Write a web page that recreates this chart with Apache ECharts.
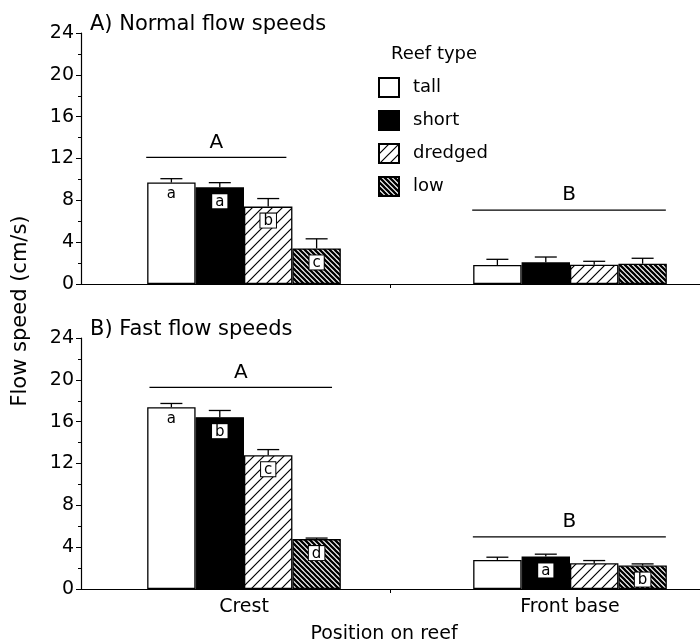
<!DOCTYPE html>
<html>
<head>
<meta charset="utf-8">
<script src="https://cdn.jsdelivr.net/npm/echarts@6/dist/echarts.min.js"></script>
<style>
  html, body { margin: 0; padding: 0; background: #fff; }
  #chart { width: 700px; height: 644px; }
</style>
</head>
<body>
<div id="chart"></div>
<script>
// Positions on the reef and reef types
const categories = ['Crest', 'Front base'];
const reefTypes = ['tall', 'short', 'dredged', 'low'];

// A) Normal flow speeds: mean flow speed (cm/s), [Crest, Front base]
const normalTall = [9.7, 1.82];
const normalShort = [9.25, 2.07];
const normalDredged = [7.4, 1.85];
const normalLow = [3.4, 1.94];
// standard errors
const normalTallSE = [0.37, 0.54];
const normalShortSE = [0.44, 0.51];
const normalDredgedSE = [0.77, 0.32];
const normalLowSE = [0.92, 0.52];
// post-hoc letters inside the bars
const normalTallLetters = ['a', ''];
const normalShortLetters = ['a', ''];
const normalDredgedLetters = ['b', ''];
const normalLowLetters = ['c', ''];
// letters for the position groups
const normalGroupLetters = ['A', 'B'];

// B) Fast flow speeds
const fastTall = [17.39, 2.78];
const fastShort = [16.43, 3.11];
const fastDredged = [12.79, 2.46];
const fastLow = [4.77, 2.24];
const fastTallSE = [0.35, 0.26];
const fastShortSE = [0.64, 0.22];
const fastDredgedSE = [0.54, 0.26];
const fastLowSE = [0.1, 0.16];
const fastTallLetters = ['a', ''];
const fastShortLetters = ['b', 'a'];
const fastDredgedLetters = ['c', ''];
const fastLowLetters = ['d', 'b'];
const fastGroupLetters = ['A', 'B'];

const yMin = 0, yMax = 24, yStep = 4;

const FONT = 'DejaVu Sans';
const BAR_FRACTION = 0.1485; // bar width as a share of one category band

// hatch fills
function hatch(size, lw, dir) {
  const c = document.createElement('canvas');
  c.width = c.height = size;
  const g = c.getContext('2d');
  g.fillStyle = '#fff';
  g.fillRect(0, 0, size, size);
  g.strokeStyle = '#000';
  g.lineWidth = lw;
  g.beginPath();
  if (dir === '/') {
    g.moveTo(-2, size + 2); g.lineTo(size + 2, -2);
    g.moveTo(-2, 2); g.lineTo(2, -2);
    g.moveTo(size - 2, size + 2); g.lineTo(size + 2, size - 2);
  } else {
    g.moveTo(-2, -2); g.lineTo(size + 2, size + 2);
    g.moveTo(-2, size - 2); g.lineTo(2, size + 2);
    g.moveTo(size - 2, -2); g.lineTo(size + 2, 2);
  }
  g.stroke();
  return { image: c, repeat: 'repeat' };
}

const fills = ['#ffffff', '#000000', hatch(10, 1.2, '/'), hatch(5, 2.3, '\\')];

const panels = [
  {
    means: [normalTall, normalShort, normalDredged, normalLow],
    se: [normalTallSE, normalShortSE, normalDredgedSE, normalLowSE],
    letters: [normalTallLetters, normalShortLetters, normalDredgedLetters, normalLowLetters],
    groups: normalGroupLetters,
    // group bar extents (category units from the band centre) and heights
    groupSpan: [[-0.30, 0.13, 12.1], [-0.30, 0.294, 7.07]]
  },
  {
    means: [fastTall, fastShort, fastDredged, fastLow],
    se: [fastTallSE, fastShortSE, fastDredgedSE, fastLowSE],
    letters: [fastTallLetters, fastShortLetters, fastDredgedLetters, fastLowLetters],
    groups: fastGroupLetters,
    groupSpan: [[-0.29, 0.27, 19.27], [-0.298, 0.294, 4.99]]
  }
];

const grids = [
  { left: 81, top: 33, width: 652, height: 251, outerBoundsMode: 'none', containLabel: false },
  { left: 81, top: 338, width: 652, height: 251, outerBoundsMode: 'none', containLabel: false }
];

const xAxes = [];
const yAxes = [];
grids.forEach((g, i) => {
  xAxes.push({
    type: 'category', gridIndex: i, data: categories,
    position: 'bottom',
    boundaryGap: true,
    axisLine: { onZero: false, lineStyle: { color: '#000', width: 1.2 } },
    axisTick: { show: false },
    axisLabel: { show: i === 1, color: '#000', fontFamily: FONT, fontSize: 19, margin: 9 },
    name: i === 1 ? 'Position on reef' : '',
    nameLocation: 'middle', nameGap: 36,
    nameTextStyle: { color: '#000', fontFamily: FONT, fontSize: 19, padding: [0, 0, 0, -46] }
  });
  yAxes.push({
    type: 'value', gridIndex: i, min: yMin, max: yMax, interval: yStep,
    axisLine: { show: true, onZero: false, lineStyle: { color: '#000', width: 1.2 } },
    axisTick: { show: true, length: 5, lineStyle: { color: '#000' } },
    minorTick: { show: true, splitNumber: 2, length: 3, lineStyle: { color: '#000' } },
    splitLine: { show: false },
    axisLabel: { color: '#000', fontFamily: FONT, fontSize: 19, margin: 7 }
  });
});
// linear axes spanning the same width: group bars and the single divider tick
grids.forEach((g, i) => {
  xAxes.push({
    type: 'value', gridIndex: i, min: -0.5, max: 1.5,
    position: 'bottom', offset: 0,
    axisLine: { show: false, onZero: false },
    axisLabel: { show: false },
    splitLine: { show: false },
    axisTick: { show: true, length: 4, customValues: [0.45], lineStyle: { color: '#000' } }
  });
});

const series = [];
panels.forEach((p, pi) => {
  reefTypes.forEach((name, ti) => {
    const boxed = ti !== 0;
    series.push({
      type: 'bar', name,
      xAxisIndex: pi, yAxisIndex: pi,
      barWidth: (BAR_FRACTION * 100) + '%',
      barGap: '0%',
      itemStyle: { color: fills[ti], borderColor: '#000', borderWidth: 1.3 },
      emphasis: { disabled: true },
      data: p.means[ti].map((v, ci) => {
        const letter = p.letters[ti][ci];
        return {
          value: v,
          label: {
            show: letter !== '',
            position: 'insideTop',
            distance: boxed ? 7 : 5,
            formatter: letter,
            color: '#000',
            fontFamily: FONT,
            fontSize: 15,
            lineHeight: 13,
            backgroundColor: boxed ? '#fff' : 'transparent',
            borderColor: boxed ? '#000' : 'transparent',
            borderWidth: boxed ? 1 : 0,
            padding: boxed ? [1, 3, 0, 3] : 0
          }
        };
      })
    });
  });

  // error bars (upper whisker only)
  const errData = [];
  reefTypes.forEach((name, ti) => {
    categories.forEach((c, ci) => {
      errData.push([ci, ti, p.means[ti][ci], p.se[ti][ci]]);
    });
  });
  series.push({
    type: 'custom', xAxisIndex: pi, yAxisIndex: pi, z: 5,
    silent: true,
    data: errData,
    renderItem(params, api) {
      const ci = api.value(0), ti = api.value(1), m = api.value(2), e = api.value(3);
      const base = api.coord([ci, m]);
      const top = api.coord([ci, m + e]);
      const band = api.size([1, 0])[0];
      const bw = band * BAR_FRACTION;
      const x = base[0] + (ti - 1.5) * bw;
      const cap = 11;
      return {
        type: 'group',
        children: [
          { type: 'line', shape: { x1: x, y1: base[1], x2: x, y2: top[1] }, style: { stroke: '#000', lineWidth: 1.3 } },
          { type: 'line', shape: { x1: x - cap, y1: top[1], x2: x + cap, y2: top[1] }, style: { stroke: '#000', lineWidth: 1.3 } }
        ]
      };
    }
  });

  // group bars with their letters
  series.push({
    type: 'custom', xAxisIndex: 2 + pi, yAxisIndex: pi, z: 5,
    silent: true,
    data: p.groups.map((g, ci) => [ci + p.groupSpan[ci][0], ci + p.groupSpan[ci][1], p.groupSpan[ci][2], ci]),
    renderItem(params, api) {
      const a = api.coord([api.value(0), api.value(2)]);
      const b = api.coord([api.value(1), api.value(2)]);
      const label = p.groups[api.value(3)];
      return {
        type: 'group',
        children: [
          { type: 'line', shape: { x1: a[0], y1: a[1], x2: b[0], y2: b[1] }, style: { stroke: '#000', lineWidth: 1.3 } },
          { type: 'text', x: (a[0] + b[0]) / 2, y: a[1] - 5,
            style: { text: label, fill: '#000', font: '20px "DejaVu Sans"', align: 'center', verticalAlign: 'bottom' } }
        ]
      };
    }
  });
});

const chart = echarts.init(document.getElementById('chart'), null, { renderer: 'canvas' });
chart.setOption({
  animation: false,
  backgroundColor: '#fff',
  title: [
    { text: 'A) Normal flow speeds', left: 85, top: 9, textStyle: { color: '#000', fontFamily: FONT, fontSize: 21, fontWeight: 'normal' } },
    { text: 'B) Fast flow speeds', left: 85, top: 314, textStyle: { color: '#000', fontFamily: FONT, fontSize: 21, fontWeight: 'normal' } },
    { text: 'Reef type', left: 386, top: 40, textStyle: { color: '#000', fontFamily: FONT, fontSize: 18, fontWeight: 'normal' } }
  ],
  legend: {
    orient: 'vertical', left: 373, top: 72,
    data: reefTypes,
    selectedMode: false,
    icon: 'rect',
    itemWidth: 20, itemHeight: 19, itemGap: 12,
    textStyle: { color: '#000', fontFamily: FONT, fontSize: 18, padding: [0, 0, 0, 9] }
  },
  graphic: [{
    type: 'text', x: 21, y: 311, rotation: Math.PI / 2,
    style: { text: 'Flow speed (cm/s)', fill: '#000', font: '21px "DejaVu Sans"', align: 'center', verticalAlign: 'middle' }
  }],
  grid: grids,
  xAxis: xAxes,
  yAxis: yAxes,
  series
});
</script>
</body>
</html>
